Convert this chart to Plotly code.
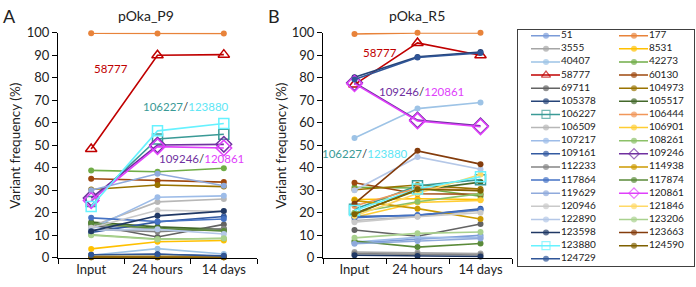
import plotly.graph_objects as go

TIMEPOINTS = ["Input", "24 hours", "14 days"]

SITES = ["51", "177", "3555", "8531", "40407", "42273", "58777", "60130", "69711",
         "104973", "105378", "105517", "106227", "106444", "106509", "106901",
         "107217", "108261", "109161", "109246", "112233", "114938", "117864",
         "117874", "119629", "120861", "120946", "121846", "122890", "123206",
         "123598", "123663", "123880", "124590", "124729"]

# pOka_P9 variant frequencies (%)
P9_INPUT = [13.8, 99.8, 14.5, 3.9, 1.1, 38.8, 48.3, 35.1, 14.6, 30.3, 1.2, 15.8,
            25.0, 0.3, 14.0, 0.5, 12.8, 10.2, 11.2, 26.5, 12.5, 0.2, 17.7, 15.2,
            30.0, 25.4, 13.3, 0.7, 12.2, 10.0, 11.8, 0.3, 22.8, 0.2, 1.3]
P9_24H = [13.2, 99.7, 12.8, 7.1, 4.0, 38.2, 90.0, 34.2, 9.2, 32.3, 1.5, 13.7,
          52.8, 0.3, 24.8, 0.6, 26.9, 8.3, 15.9, 50.1, 11.6, 0.2, 16.1, 13.0,
          37.3, 49.4, 21.1, 0.7, 12.6, 8.1, 18.6, 0.2, 56.4, 0.3, 1.5]
P9_14D = [12.0, 99.7, 12.5, 7.6, 1.6, 39.8, 90.3, 33.6, 14.8, 31.6, 0.6, 12.6,
          54.9, 0.3, 26.1, 0.5, 27.5, 8.5, 18.3, 50.4, 12.9, 0.2, 17.2, 11.9,
          32.0, 48.8, 20.6, 0.6, 10.5, 8.6, 20.7, 0.2, 59.7, 0.2, 0.8]

# pOka_R5 variant frequencies (%)
R5_INPUT = [6.5, 99.5, 2.5, 25.9, 53.2, 31.3, 77.0, 33.3, 12.3, 30.2, 80.2, 19.8,
            21.5, 23.0, 16.5, 18.0, 7.0, 20.0, 18.3, 77.8, 1.8, 25.5, 17.8, 7.4,
            6.2, 77.4, 15.8, 18.5, 30.0, 8.8, 1.1, 24.0, 21.0, 19.3, 79.2]
R5_24H = [8.1, 100.0, 2.3, 26.2, 66.3, 31.0, 95.5, 28.4, 9.5, 32.3, 89.3, 30.0,
          32.0, 31.0, 18.3, 24.5, 9.0, 24.9, 18.8, 61.2, 1.5, 21.8, 19.0, 4.7,
          7.4, 60.8, 18.2, 28.5, 44.8, 10.8, 0.7, 47.5, 30.5, 30.4, 89.0]
R5_14D = [9.9, 100.0, 1.8, 25.9, 69.0, 27.3, 90.0, 28.2, 15.0, 30.5, 91.5, 33.6,
          34.7, 29.8, 21.0, 25.5, 8.8, 28.5, 21.7, 58.6, 1.2, 17.2, 21.3, 6.3,
          8.5, 58.2, 20.0, 37.0, 39.3, 11.4, 0.5, 41.6, 36.0, 29.8, 91.0]

COLORS = ["#7B9BD8", "#E8833A", "#A5A5A5", "#FFC000", "#9DC3E6", "#70AD47", "#C00000",
          "#9E480E", "#636363", "#997300", "#264478", "#43682B", "#3A9A96", "#F1975A",
          "#B7B7B7", "#FFCD33", "#9DBCE8", "#8CC168", "#335AA1", "#7030A0", "#848484",
          "#CC9A00", "#4472C4", "#5A8A39", "#8FAADC", "#E040FB", "#C9C9C9", "#FFD966",
          "#B4C7E7", "#A9D18E", "#203864", "#843C0C", "#66F2FF", "#7F6000", "#2F5597"]

SPECIAL_SYMBOLS = {"58777": "triangle-up-open", "106227": "square-open", "123880": "square-open",
                   "109246": "diamond-open", "120861": "diamond-open"}

W, H = 696, 287
FONT = "Lato, 'Open Sans', sans-serif"
TXT = "#222222"


def fx(p):
    return p / W


def fy(p):
    return 1 - p / H


fig = go.Figure()

panels = [("x", "y", P9_INPUT, P9_24H, P9_14D), ("x2", "y2", R5_INPUT, R5_24H, R5_14D)]
for xa, ya, v0, v1, v2 in panels:
    for i, site in enumerate(SITES):
        sym = SPECIAL_SYMBOLS.get(site, "circle")
        size = 6 if sym == "circle" else (12 if sym.startswith("diamond") else 10)
        fig.add_trace(go.Scatter(
            x=TIMEPOINTS, y=[v0[i], v1[i], v2[i]], mode="lines+markers",
            line=dict(color=COLORS[i], width=1.6),
            marker=dict(symbol=sym, size=size, color=COLORS[i],
                        line=dict(color=COLORS[i], width=1.5 if sym != "circle" else 0)),
            xaxis=xa, yaxis=ya, showlegend=False, cliponaxis=False, name=site,
            hoverinfo="name+y"))

# custom legend drawn in its own axis (pixel-like units)
LEG_COL_DX = 88
LEG_ROW_DY = 13.9
for i, site in enumerate(SITES):
    r, c = divmod(i, 2)
    yy = 6.3 + LEG_ROW_DY * r
    x0 = 13 + c * LEG_COL_DX
    sym = SPECIAL_SYMBOLS.get(site, "circle")
    fig.add_trace(go.Scatter(
        x=[x0, x0 + 15, x0 + 29], y=[yy, yy, yy], mode="lines+markers",
        line=dict(color=COLORS[i], width=1.5),
        marker=dict(symbol=sym, size=[0, 6 if sym == "circle" else 8, 0], color=COLORS[i],
                    line=dict(color=COLORS[i], width=1.2 if sym != "circle" else 0)),
        xaxis="x3", yaxis="y3", showlegend=False, hoverinfo="skip", cliponaxis=False))

leg_x = [13 + (i % 2) * LEG_COL_DX + 30 for i in range(len(SITES))]
leg_y = [6.3 + LEG_ROW_DY * (i // 2) for i in range(len(SITES))]
fig.add_trace(go.Scatter(
    x=leg_x, y=leg_y, text=SITES, mode="text", textposition="middle right",
    textfont=dict(family=FONT, size=10, color=TXT),
    xaxis="x3", yaxis="y3", showlegend=False, hoverinfo="skip", cliponaxis=False))

xcommon = dict(type="category", range=[-0.5, 2.5], showline=True, linecolor="#000000",
               linewidth=1, ticks="outside", tickson="boundaries", ticklen=5,
               tickcolor="#000000", showgrid=False, zeroline=False,
               tickfont=dict(family=FONT, size=13, color=TXT))
ycommon = dict(range=[0, 100], dtick=10, showline=True, linecolor="#000000", linewidth=1,
               ticks="outside", ticklen=5, tickcolor="#000000", showgrid=False, zeroline=False,
               tickfont=dict(family=FONT, size=13, color=TXT), domain=[fy(264.4), fy(26.3)])

fig.update_layout(
    width=W, height=H, margin=dict(l=0, r=0, t=0, b=0),
    paper_bgcolor="white", plot_bgcolor="white",
    font=dict(family=FONT, color=TXT),
    xaxis=dict(xcommon, domain=[fx(58), fx(257)]),
    yaxis=dict(ycommon, anchor="x"),
    xaxis2=dict(xcommon, domain=[fx(323), fx(512)], anchor="y2"),
    yaxis2=dict(ycommon, anchor="x2"),
    xaxis3=dict(domain=[fx(518), fx(694)], range=[0, 176], anchor="y3", showline=True,
                mirror=True, linecolor="#404040", linewidth=1, showgrid=False,
                zeroline=False, showticklabels=False, ticks=""),
    yaxis3=dict(domain=[fy(273), fy(23)], range=[250, 0], anchor="x3", showline=True,
                mirror=True, linecolor="#404040", linewidth=1, showgrid=False,
                zeroline=False, showticklabels=False, ticks=""),
    showlegend=False,
)

ann = []


def paper_text(text, xp, yp, size, angle=0):
    return dict(text=text, x=fx(xp), y=fy(yp), xref="paper", yref="paper",
                xanchor="center", yanchor="middle", textangle=angle, showarrow=False,
                font=dict(size=size, family=FONT, color=TXT))


ann.append(paper_text("A", 9, 9, 18))
ann.append(paper_text("B", 274, 9, 18))
ann.append(paper_text("pOka_P9", 146, 8, 14))
ann.append(paper_text("pOka_R5", 417, 8, 14))
ann.append(paper_text("Variant frequency (%)", 15, 146, 13.5, -90))
ann.append(paper_text("Variant frequency (%)", 281, 146, 13.5, -90))


def dual(a, ca, b, cb):
    return (f'<span style="color:{ca}">{a}</span><span style="color:#333333">/</span>'
            f'<span style="color:{cb}">{b}</span>')


TEAL, CYAN, PURP, MAG = "#3A9A96", "#5EE6F5", "#7030A0", "#E040FB"
labels = [
    ("x", "y", 0.30, 84.0, '<span style="color:#C00000">58777</span>'),
    ("x", "y", 1.43, 67.2, dual("106227", TEAL, "123880", CYAN)),
    ("x", "y", 1.67, 44.2, dual("109246", PURP, "120861", MAG)),
    ("x2", "y2", 0.40, 91.3, '<span style="color:#C00000">58777</span>'),
    ("x2", "y2", 1.07, 73.8, dual("109246", PURP, "120861", MAG)),
    ("x2", "y2", 0.16, 46.2, dual("106227", TEAL, "123880", CYAN)),
]
for xr, yr, xv, yv, t in labels:
    ann.append(dict(text=t, x=xv, y=yv, xref=xr, yref=yr, showarrow=False,
                    xanchor="center", yanchor="middle", font=dict(size=11.5, family=FONT)))

fig.update_layout(annotations=ann)
fig.write_html("out.html", config={"displayModeBar": False},
               post_script="document.body.style.margin='0';document.body.style.overflow='hidden';")
